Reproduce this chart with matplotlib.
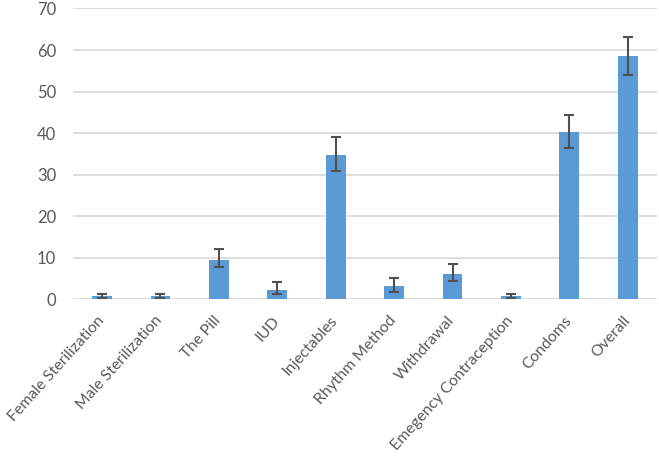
import matplotlib.pyplot as plt
import matplotlib.transforms as mtransforms
import numpy as np

# categorias y valores
metodos = ['Female Sterilization', 'Male Sterilization', 'The Pill', 'IUD',
           'Injectables', 'Rhythm Method', 'Withdrawal', 'Emegency Contraception',
           'Condoms', 'Overall']
valores = [0.9, 0.9, 9.5, 2.2, 34.8, 3.2, 6.1, 0.9, 40.4, 58.5]
err_abajo = [0.45, 0.45, 1.8, 1.0, 3.8, 1.3, 1.6, 0.45, 3.9, 4.5]
err_arriba = [0.5, 0.5, 2.6, 2.1, 4.3, 2.05, 2.4, 0.5, 4.1, 4.6]

plt.rcParams['font.family'] = ['Lato', 'DejaVu Sans']

fig = plt.figure(figsize=(6.59, 4.67), dpi=100)
ax = fig.add_axes([0.1105, 0.3587, 0.8865, 0.6231])

x = np.arange(len(metodos))
ax.bar(x, valores, width=0.34, color='#5b9bd5', zorder=2)
ax.errorbar(x, valores, yerr=[err_abajo, err_arriba], fmt='none',
            ecolor='#505050', elinewidth=1.5, capsize=3.5, capthick=1.5, zorder=3)

ax.set_xlim(-0.5, len(metodos) - 0.5)
ax.set_ylim(0, 70)
ax.set_yticks(range(0, 71, 10))
ax.yaxis.grid(True, color='#d9d9d9', linewidth=1.2, zorder=0)
ax.set_axisbelow(True)

ax.set_xticks(x)
ax.set_xticklabels(metodos, rotation=48, ha='right', rotation_mode='anchor',
                   fontsize=11.3)
ax.tick_params(axis='both', length=0, colors='#595959')
ax.tick_params(axis='y', labelsize=12, pad=12)
ax.tick_params(axis='x', pad=10)
# mover un poco las etiquetas a la izquierda
desplazamiento = mtransforms.ScaledTranslation(-4 / 72, 0, fig.dpi_scale_trans)
for etiqueta in ax.get_xticklabels():
    etiqueta.set_transform(etiqueta.get_transform() + desplazamiento)
for s in ax.spines.values():
    s.set_visible(False)

fig.savefig('out.png', dpi=100)
